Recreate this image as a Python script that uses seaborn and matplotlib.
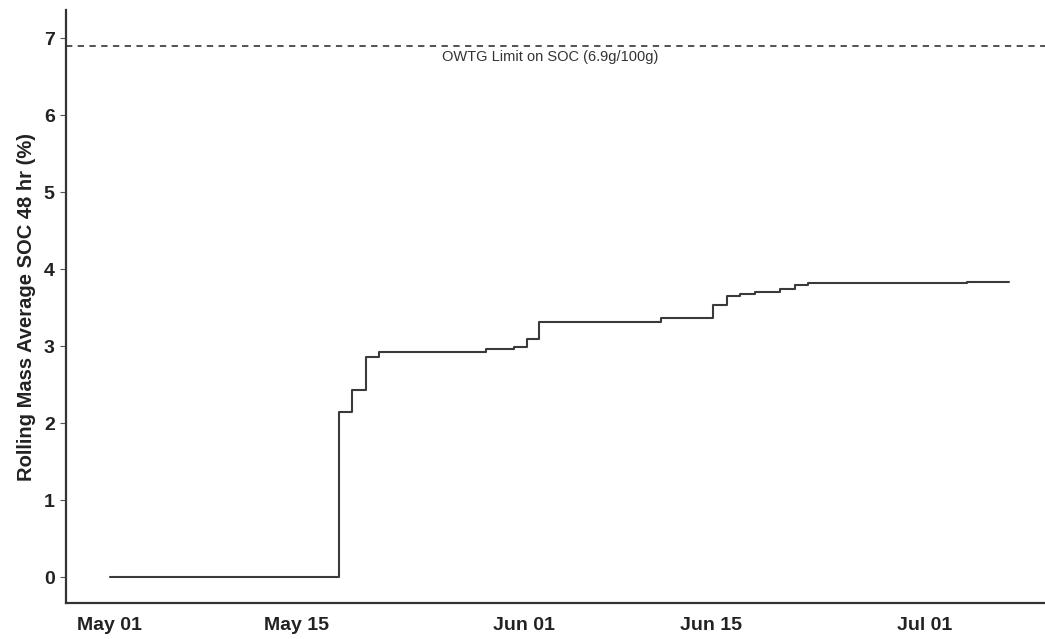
import matplotlib
matplotlib.use("Agg")
import matplotlib.pyplot as plt
import pandas as pd
import seaborn as sns

# Rolling 48 hr mass-average SOC, step changes over the season
timestamps = [
    "2021-05-01 00:00", "2021-05-18 03:30", "2021-05-19 03:00", "2021-05-20 04:20",
    "2021-05-21 03:40", "2021-05-29 04:00", "2021-05-31 06:00", "2021-06-01 05:50",
    "2021-06-02 03:10", "2021-06-11 06:30", "2021-06-15 04:00", "2021-06-16 05:20",
    "2021-06-17 04:30", "2021-06-18 07:30", "2021-06-20 04:30", "2021-06-21 07:30",
    "2021-06-22 06:40", "2021-07-04 04:30", "2021-07-07 08:10",
]
soc_values = [
    0.00, 2.14, 2.43, 2.86,
    2.92, 2.96, 2.99, 3.10,
    3.31, 3.37, 3.53, 3.65,
    3.68, 3.71, 3.74, 3.79,
    3.82, 3.84, 3.84,
]
tick_dates = ["2021-05-01", "2021-05-15", "2021-06-01", "2021-06-15", "2021-07-01"]
tick_labels = ["May 01", "May 15", "Jun 01", "Jun 15", "Jul 01"]
y_ticks = [0, 1, 2, 3, 4, 5, 6, 7]

limit_value = 6.9
limit_label = "OWTG Limit on SOC (6.9g/100g)"

df = pd.DataFrame({"time": pd.to_datetime(timestamps), "soc": soc_values})

sns.set_theme(style="ticks")
plt.rcParams["font.family"] = ["Liberation Sans", "DejaVu Sans"]

fig = plt.figure(figsize=(10.45, 6.39), dpi=100)
ax = fig.add_axes([0.063, 0.056, 0.937, 0.928])

sns.lineplot(data=df, x="time", y="soc", ax=ax, drawstyle="steps-post",
             color="#3a3a3a", linewidth=1.5)

ax.axhline(limit_value, color="#444444", linestyle=(0, (3.5, 3)), linewidth=1.3)
ax.text(pd.Timestamp("2021-06-03 00:00"), limit_value - 0.15, limit_label,
        ha="center", va="center", fontsize=10.5, color="#333333")

ax.set_xlim(pd.Timestamp("2021-04-27 17:00"), pd.Timestamp("2021-07-10 00:00"))
ax.set_ylim(-0.338, 7.364)
ax.set_xticks(pd.to_datetime(tick_dates))
ax.set_xticklabels(tick_labels)
ax.set_yticks(y_ticks)

for lbl in ax.get_xticklabels() + ax.get_yticklabels():
    lbl.set_fontweight("bold")
    lbl.set_fontsize(14)
    lbl.set_color("#222222")

ax.tick_params(axis="x", length=0, pad=10)
ax.tick_params(axis="y", length=4, width=0.8, color="#555555", pad=4)

ax.set_xlabel("")
ax.set_ylabel("Rolling Mass Average SOC 48 hr (%)", fontsize=14.5,
              fontweight="bold", color="#222222", labelpad=6)

sns.despine(ax=ax)
for side in ("left", "bottom"):
    ax.spines[side].set_color("#333333")
    ax.spines[side].set_linewidth(1.6)

fig.savefig("out.png", dpi=100)
